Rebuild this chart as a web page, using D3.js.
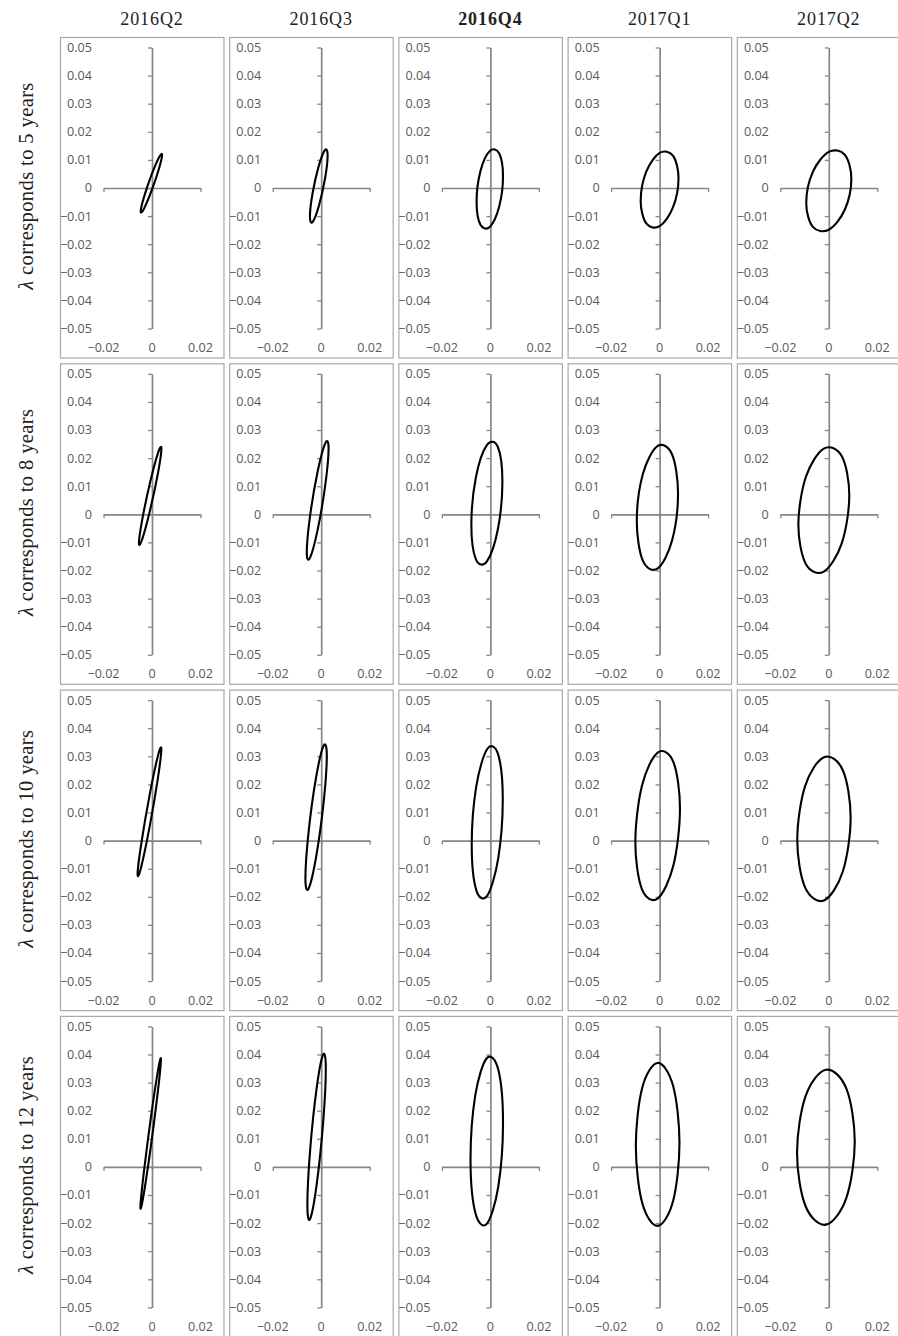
<!DOCTYPE html>
<html><head><meta charset="utf-8">
<script src="https://cdn.jsdelivr.net/npm/d3@7/dist/d3.min.js"></script>
<style>body{margin:0;background:#fff}svg{display:block}</style>
</head><body>
<svg id="chart" width="898" height="1336"></svg>
<script>
// ---- data ----
const quarters = ["2016Q2", "2016Q3", "2016Q4", "2017Q1", "2017Q2"];
const boldQuarter = "2016Q4";
const horizons = ["5", "8", "10", "12"];
const yTickValues = [0.05, 0.04, 0.03, 0.02, 0.01, 0, -0.01, -0.02, -0.03, -0.04, -0.05];
const xTickValues = [-0.02, 0, 0.02];
const xDomain = [-0.02, 0.02];
const yDomain = [-0.05, 0.05];

// contour points (x, y) of each panel's ellipse, one list per quarter
const ellipse5y = [
  [[4.17e-3,11.80e-3],[2.87e-3,10.86e-3],[-0.25e-3,4.55e-3],[-3.37e-3,-3.43e-3],[-4.67e-3,-8.41e-3],[-3.37e-3,-7.46e-3],[-0.25e-3,-1.15e-3],[2.87e-3,6.83e-3]],
  [[2.65e-3,11.66e-3],[1.58e-3,13.53e-3],[-1.00e-3,7.88e-3],[-3.58e-3,-1.97e-3],[-4.65e-3,-10.26e-3],[-3.58e-3,-12.13e-3],[-1.00e-3,-6.48e-3],[1.58e-3,3.37e-3]],
  [[5.20e-3,4.15e-3],[3.60e-3,12.38e-3],[-0.25e-3,13.15e-3],[-4.10e-3,6.01e-3],[-5.70e-3,-4.85e-3],[-4.10e-3,-13.08e-3],[-0.25e-3,-13.85e-3],[3.60e-3,-6.71e-3]],
  [[7.80e-3,3.50e-3],[5.51e-3,11.53e-3],[0,12.48e-3],[-5.51e-3,5.80e-3],[-7.80e-3,-4.60e-3],[-5.51e-3,-12.63e-3],[0,-13.58e-3],[5.51e-3,-6.90e-3]],
  [[9.30e-3,3.30e-3],[6.58e-3,11.83e-3],[0,12.85e-3],[-6.58e-3,5.75e-3],[-9.30e-3,-5.30e-3],[-6.58e-3,-13.83e-3],[0,-14.85e-3],[6.58e-3,-7.75e-3]]
];
const ellipse8y = [
  [[3.89e-3,23.40e-3],[2.53e-3,21.94e-3],[-0.75e-3,11.47e-3],[-4.03e-3,-1.88e-3],[-5.39e-3,-10.30e-3],[-4.03e-3,-8.84e-3],[-0.75e-3,1.63e-3],[2.53e-3,14.98e-3]],
  [[3.05e-3,23.48e-3],[1.73e-3,25.40e-3],[-1.45e-3,15.35e-3],[-4.63e-3,-0.80e-3],[-5.95e-3,-13.58e-3],[-4.63e-3,-15.50e-3],[-1.45e-3,-5.45e-3],[1.73e-3,10.70e-3]],
  [[4.95e-3,11.55e-3],[3.08e-3,23.96e-3],[-1.45e-3,24.65e-3],[-5.98e-3,13.21e-3],[-7.85e-3,-3.65e-3],[-5.98e-3,-16.06e-3],[-1.45e-3,-16.75e-3],[3.08e-3,-5.31e-3]],
  [[7.60e-3,7.45e-3],[5.11e-3,21.38e-3],[-0.90e-3,24.23e-3],[-6.91e-3,14.31e-3],[-9.40e-3,-2.55e-3],[-6.91e-3,-16.48e-3],[-0.90e-3,-19.33e-3],[5.11e-3,-9.41e-3]],
  [[8.45e-3,6.75e-3],[5.37e-3,20.68e-3],[-2.05e-3,23.38e-3],[-9.47e-3,13.26e-3],[-12.55e-3,-3.75e-3],[-9.47e-3,-17.68e-3],[-2.05e-3,-20.38e-3],[5.37e-3,-10.26e-3]]
];
const ellipse10y = [
  [[3.85e-3,32.60e-3],[2.41e-3,30.05e-3],[-1.05e-3,15.90e-3],[-4.51e-3,-1.56e-3],[-5.95e-3,-12.10e-3],[-4.51e-3,-9.55e-3],[-1.05e-3,4.60e-3],[2.41e-3,22.06e-3]],
  [[2.31e-3,30.21e-3],[1.02e-3,33.83e-3],[-2.10e-3,22.53e-3],[-5.22e-3,2.92e-3],[-6.51e-3,-13.51e-3],[-5.22e-3,-17.13e-3],[-2.10e-3,-5.83e-3],[1.02e-3,13.78e-3]],
  [[5.10e-3,14.50e-3],[3.22e-3,30.61e-3],[-1.30e-3,32.60e-3],[-5.83e-3,19.30e-3],[-7.70e-3,-1.50e-3],[-5.83e-3,-17.61e-3],[-1.30e-3,-19.60e-3],[3.22e-3,-6.30e-3]],
  [[8.40e-3,11.35e-3],[5.70e-3,27.95e-3],[-0.80e-3,31.32e-3],[-7.30e-3,19.47e-3],[-10.00e-3,-0.65e-3],[-7.30e-3,-17.25e-3],[-0.80e-3,-20.62e-3],[5.70e-3,-8.77e-3]],
  [[9.00e-3,8.20e-3],[5.78e-3,25.05e-3],[-2.00e-3,29.69e-3],[-9.78e-3,19.39e-3],[-13.00e-3,0.20e-3],[-9.78e-3,-16.65e-3],[-2.00e-3,-21.29e-3],[5.78e-3,-10.99e-3]]
];
const ellipse12y = [
  [[3.68e-3,38.32e-3],[2.44e-3,34.18e-3],[-0.55e-3,16.99e-3],[-3.54e-3,-3.18e-3],[-4.78e-3,-14.52e-3],[-3.54e-3,-10.38e-3],[-0.55e-3,6.81e-3],[2.44e-3,26.98e-3]],
  [[1.90e-3,34.92e-3],[0.79e-3,39.98e-3],[-1.90e-3,27.89e-3],[-4.59e-3,5.73e-3],[-5.70e-3,-13.52e-3],[-4.59e-3,-18.58e-3],[-1.90e-3,-6.49e-3],[0.79e-3,15.67e-3]],
  [[5.20e-3,15.70e-3],[3.24e-3,34.64e-3],[-1.50e-3,38.69e-3],[-6.24e-3,25.45e-3],[-8.20e-3,2.70e-3],[-6.24e-3,-16.24e-3],[-1.50e-3,-20.29e-3],[3.24e-3,-7.05e-3]],
  [[8.20e-3,8.50e-3],[5.56e-3,28.86e-3],[-0.80e-3,37.00e-3],[-7.16e-3,28.15e-3],[-9.80e-3,7.50e-3],[-7.16e-3,-12.86e-3],[-0.80e-3,-21.00e-3],[5.56e-3,-12.15e-3]],
  [[10.70e-3,9.00e-3],[7.21e-3,27.91e-3],[-1.20e-3,34.58e-3],[-9.61e-3,25.09e-3],[-13.10e-3,5.00e-3],[-9.61e-3,-13.91e-3],[-1.20e-3,-20.58e-3],[7.21e-3,-11.09e-3]]
];
const ellipsesByHorizon = [ellipse5y, ellipse8y, ellipse10y, ellipse12y];

// ---- layout ----
const svg = d3.select("#chart");
const colPitch = 169.2, rowPitch = 326.3, panelW = 163.5, panelH = 320.5;
const panelLeft0 = 60, panelTop0 = 37;
const axisColor = "#868686", labelColor = "#595959", borderColor = "#a9a9a9";
const labelFont = "'Open Sans', 'Noto Sans', sans-serif";
const titleFont = "'Liberation Serif', 'DejaVu Serif', serif";
const fmt = v => v === 0 ? "0" : d3.format(".2f")(v);

quarters.forEach((q, c) => {
  const x0 = panelLeft0 + c * colPitch + 92;
  svg.append("text")
    .attr("x", x0).attr("y", 25)
    .attr("text-anchor", "middle")
    .attr("font-family", titleFont).attr("font-size", 18)
    .attr("font-weight", q === boldQuarter ? "bold" : "normal")
    .attr("letter-spacing", 0.9)
    .attr("fill", "#222")
    .text(q);
});

horizons.forEach((h, r) => {
  const top = panelTop0 + r * rowPitch;
  const yMid = top + 149;
  const t = svg.append("text")
    .attr("transform", `translate(33,${yMid}) rotate(-90)`)
    .attr("text-anchor", "middle")
    .attr("font-family", titleFont).attr("font-size", 20.5)
    .attr("letter-spacing", 0.4)
    .attr("fill", "#222");
  t.append("tspan").attr("font-style", "italic").text("λ");
  t.append("tspan").text(` corresponds to ${h} years`);

  quarters.forEach((q, c) => {
    const left = panelLeft0 + c * colPitch;
    const x0 = left + 92;
    const x = d3.scaleLinear().domain(xDomain).range([x0 - 48.5, x0 + 48.5]);
    const y = d3.scaleLinear().domain(yDomain).range([top + 291.5, top + 10.5]);
    const g = svg.append("g");

    g.append("rect")
      .attr("x", left + 0.5).attr("y", top + 0.5)
      .attr("width", panelW).attr("height", panelH)
      .attr("fill", "#fff").attr("stroke", borderColor).attr("stroke-width", 1.2);

    // vertical axis
    const ya = g.append("g")
      .attr("transform", `translate(${x(0)},0)`)
      .call(d3.axisLeft(y).tickValues(yTickValues).tickSize(4).tickSizeOuter(0).tickFormat(""));
    // horizontal axis
    const xa = g.append("g")
      .attr("transform", `translate(0,${y(0)})`)
      .call(d3.axisBottom(x).tickValues(xTickValues).tickSize(4).tickSizeOuter(0).tickFormat(""));
    [ya, xa].forEach(a => {
      a.select(".domain").attr("stroke", axisColor).attr("stroke-width", 1.7);
      a.selectAll(".tick line").attr("stroke", axisColor).attr("stroke-width", 1.3);
      a.selectAll(".tick text").remove();
    });

    // y labels at the panel's left edge
    g.selectAll("text.ylab").data(yTickValues).join("text")
      .attr("class", "ylab")
      .attr("x", left + 32).attr("y", d => y(d)).attr("dy", "0.35em")
      .attr("text-anchor", "end")
      .attr("font-family", labelFont).attr("font-size", 12.6)
      .attr("fill", labelColor)
      .text(fmt);
    // x labels at the panel's bottom
    g.selectAll("text.xlab").data(xTickValues).join("text")
      .attr("class", "xlab")
      .attr("x", d => x(d)).attr("y", top + 310.5).attr("dy", "0.35em")
      .attr("text-anchor", "middle")
      .attr("font-family", labelFont).attr("font-size", 12.6)
      .attr("fill", labelColor)
      .text(fmt);

    // ellipse
    const line = d3.line()
      .x(d => x(d[0])).y(d => y(d[1]))
      .curve(d3.curveCardinalClosed.tension(0));
    g.append("path")
      .attr("d", line(ellipsesByHorizon[r][c]))
      .attr("fill", "none").attr("stroke", "#000").attr("stroke-width", 2.1);
  });
});
</script>
</body></html>
